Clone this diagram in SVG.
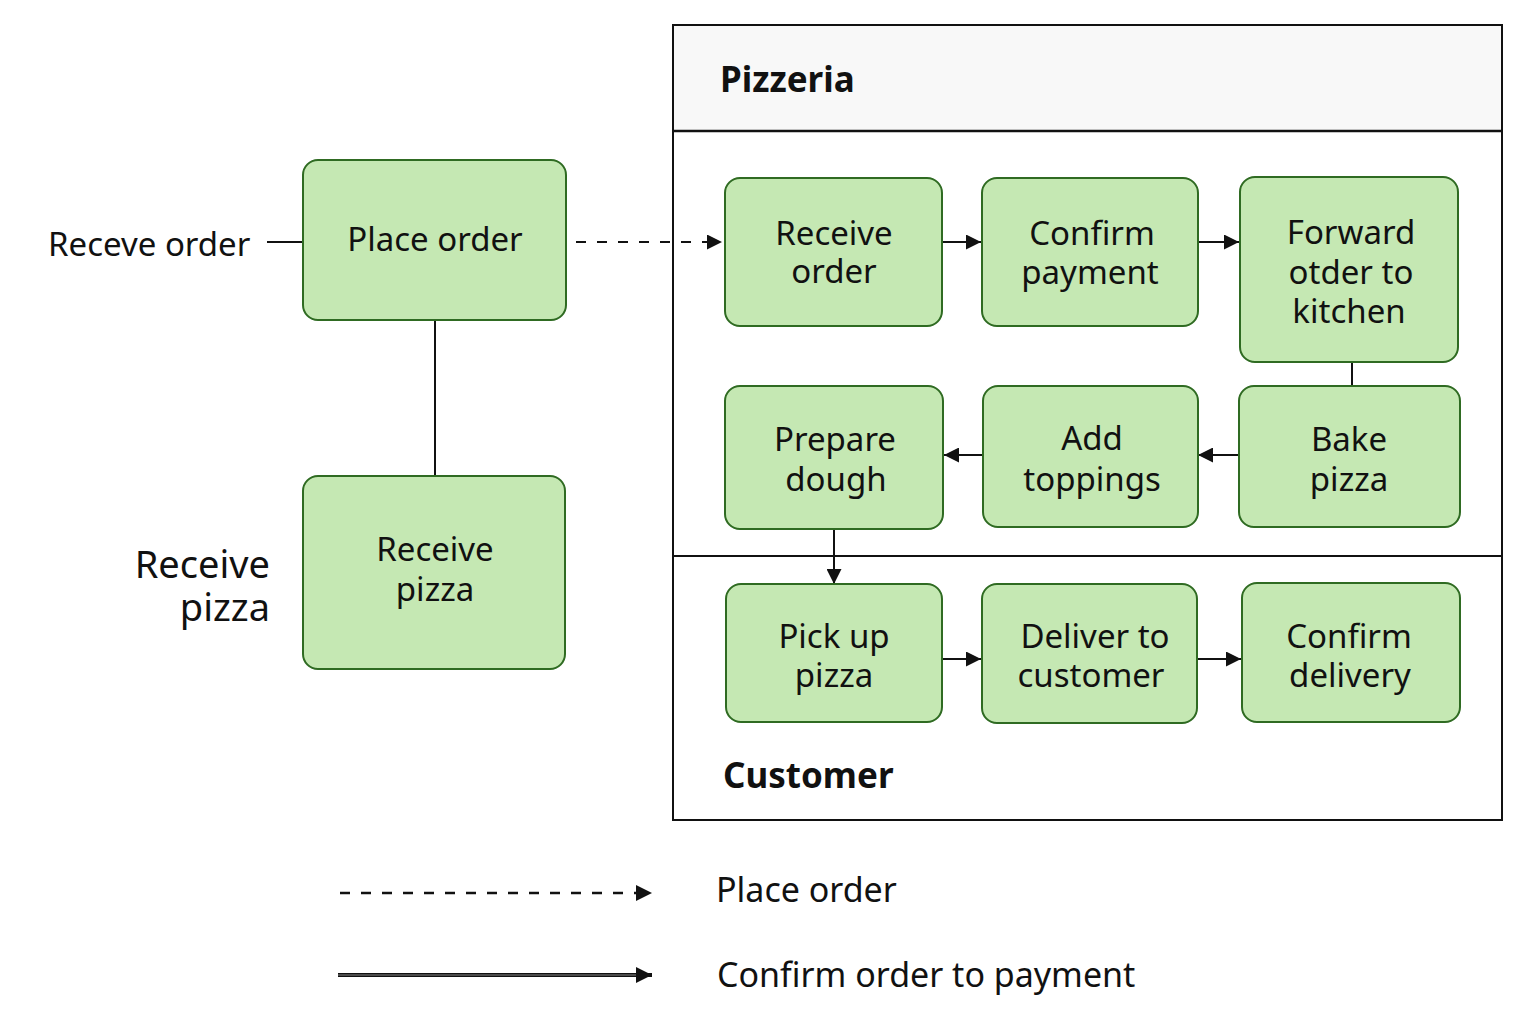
<svg xmlns="http://www.w3.org/2000/svg" width="1536" height="1024" viewBox="0 0 1536 1024">
<defs>
<style>
.node{fill:#c5e8b3;stroke:#2f6b22;stroke-width:2}
.t{font-family:"Noto Sans","Open Sans","DejaVu Sans",sans-serif;font-size:33px;fill:#111;text-anchor:middle;dominant-baseline:central}
.lbl{font-family:"Noto Sans","Open Sans","DejaVu Sans",sans-serif;font-size:33px;fill:#111;dominant-baseline:central}
.b{font-weight:bold;font-size:35px}
.lg{font-size:34px}
.c{stroke:#111;stroke-width:2;fill:none}
</style>
<marker id="ah" viewBox="0 0 10 10" refX="10" refY="5" markerWidth="15" markerHeight="15" markerUnits="userSpaceOnUse" orient="auto">
<path d="M0,0 L10,5 L0,10 Z" fill="#111"/>
</marker>
<marker id="ahL" viewBox="0 0 10 10" refX="10" refY="5" markerWidth="16" markerHeight="20" markerUnits="userSpaceOnUse" orient="auto">
<path d="M0,0 L10,5 L0,10 Z" fill="#111"/>
</marker>
</defs>
<rect width="1536" height="1024" fill="#fff"/>

<g id="pool">
<rect x="673" y="25" width="829" height="106" fill="#f8f8f8"/>
<rect x="673" y="25" width="829" height="795" fill="none" stroke="#111" stroke-width="2"/>
<line x1="673" y1="131" x2="1502" y2="131" stroke="#111" stroke-width="2.5"/>
<line x1="673" y1="556" x2="1502" y2="556" stroke="#111" stroke-width="2"/>
<text class="lbl b" x="720" y="78">Pizzeria</text>
<text class="lbl b" x="723" y="774">Customer</text>
</g>

<g id="connectors">
<line class="c" x1="267" y1="242" x2="303" y2="242"/>
<line class="c" x1="435" y1="320" x2="435" y2="476"/>
<line class="c" x1="576" y1="242" x2="722" y2="242" stroke-dasharray="10,11" marker-end="url(#ah)"/>
<line class="c" x1="942" y1="242" x2="981" y2="242" marker-end="url(#ah)"/>
<line class="c" x1="1198" y1="242" x2="1239" y2="242" marker-end="url(#ah)"/>
<line class="c" x1="1352" y1="362" x2="1352" y2="386"/>
<line class="c" x1="1239" y1="455" x2="1198" y2="455" marker-end="url(#ah)"/>
<line class="c" x1="983" y1="455" x2="944" y2="455" marker-end="url(#ah)"/>
<line class="c" x1="834" y1="529" x2="834" y2="584" marker-end="url(#ah)"/>
<line class="c" x1="942" y1="659" x2="981" y2="659" marker-end="url(#ah)"/>
<line class="c" x1="1197" y1="659" x2="1241" y2="659" marker-end="url(#ah)"/>
</g>

<text id="lbl-receve" class="lbl" x="48" y="243">Receve order</text>
<g id="lbl-receive-pizza">
<text class="t" x="270" y="563" style="text-anchor:end;font-size:38px">Receive</text>
<text class="t" x="270" y="606" style="text-anchor:end;font-size:38px">pizza</text>
</g>

<g id="n-place-order"><rect class="node" x="303" y="160" width="263" height="160" rx="15"/><text class="t" x="435" y="238">Place order</text></g>
<g id="n-receive-pizza"><rect class="node" x="303" y="476" width="262" height="193" rx="15"/><text class="t" x="435" y="548">Receive</text><text class="t" x="435" y="588">pizza</text></g>
<g id="n-receive-order"><rect class="node" x="725" y="178" width="217" height="148" rx="15"/><text class="t" x="834" y="232">Receive</text><text class="t" x="834" y="270">order</text></g>
<g id="n-confirm-payment"><rect class="node" x="982" y="178" width="216" height="148" rx="15"/><text class="t" x="1092" y="232">Confirm</text><text class="t" x="1090" y="271">payment</text></g>
<g id="n-forward"><rect class="node" x="1240" y="177" width="218" height="185" rx="15"/><text class="t" x="1351" y="231">Forward</text><text class="t" x="1351" y="271">otder to</text><text class="t" x="1349" y="310">kitchen</text></g>
<g id="n-prepare"><rect class="node" x="725" y="386" width="218" height="143" rx="15"/><text class="t" x="835" y="438">Prepare</text><text class="t" x="836" y="478">dough</text></g>
<g id="n-toppings"><rect class="node" x="983" y="386" width="215" height="141" rx="15"/><text class="t" x="1092" y="437">Add</text><text class="t" x="1092" y="478">toppings</text></g>
<g id="n-bake"><rect class="node" x="1239" y="386" width="221" height="141" rx="15"/><text class="t" x="1349" y="438">Bake</text><text class="t" x="1349" y="478">pizza</text></g>
<g id="n-pickup"><rect class="node" x="726" y="584" width="216" height="138" rx="15"/><text class="t" x="834" y="635">Pick up</text><text class="t" x="834" y="674">pizza</text></g>
<g id="n-deliver"><rect class="node" x="982" y="584" width="215" height="139" rx="15"/><text class="t" x="1095" y="635">Deliver to</text><text class="t" x="1091" y="674">customer</text></g>
<g id="n-confirm-delivery"><rect class="node" x="1242" y="583" width="218" height="139" rx="15"/><text class="t" x="1349" y="635">Confirm</text><text class="t" x="1350" y="674">delivery</text></g>

<g id="legend">
<line x1="340" y1="893" x2="652" y2="893" stroke="#111" stroke-width="2.5" stroke-dasharray="10,11" marker-end="url(#ahL)"/>
<text class="lbl lg" x="716" y="889">Place order</text>
<line x1="338" y1="975" x2="652" y2="975" stroke="#111" stroke-width="4" marker-end="url(#ahL)"/>
<line x1="338" y1="975" x2="636" y2="975" stroke="#888" stroke-width="1"/>
<text class="lbl lg" x="717" y="974">Confirm order to payment</text>
</g>
</svg>
